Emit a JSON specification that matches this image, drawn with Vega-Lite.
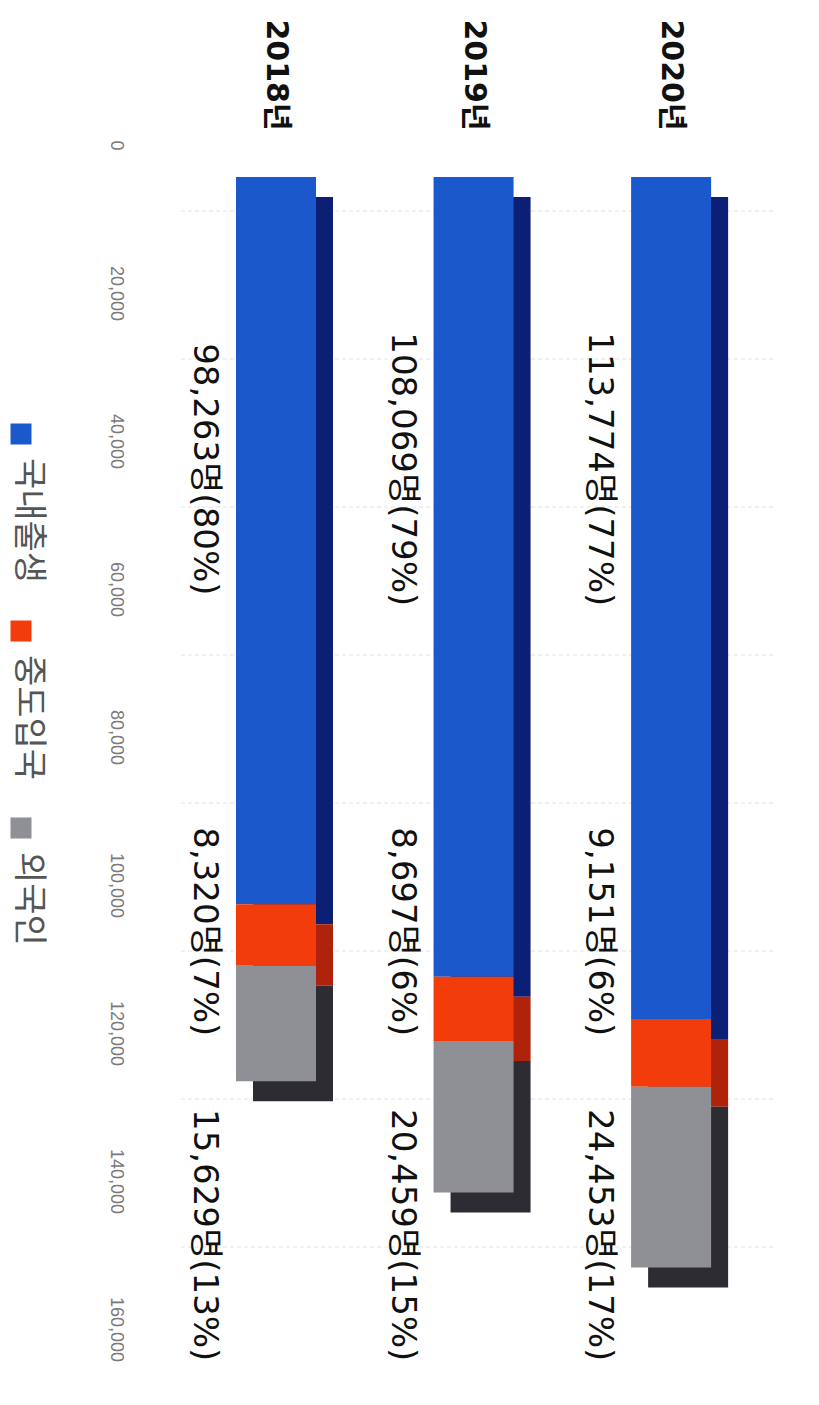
{
  "$schema": "https://vega.github.io/schema/vega-lite/v6.json",
  "width": 630,
  "height": 1184,
  "padding": {"left": 4, "top": 18, "right": 0, "bottom": 5},
  "background": "white",
  "config": {"view": {"stroke": null}},
  "data": {
    "values": [
      {"연도": "2018년", "유형": "국내출생", "인원": 98263, "비율": 80},
      {"연도": "2018년", "유형": "중도입국", "인원": 8320, "비율": 7},
      {"연도": "2018년", "유형": "외국인", "인원": 15629, "비율": 13},
      {"연도": "2019년", "유형": "국내출생", "인원": 108069, "비율": 79},
      {"연도": "2019년", "유형": "중도입국", "인원": 8697, "비율": 6},
      {"연도": "2019년", "유형": "외국인", "인원": 20459, "비율": 15},
      {"연도": "2020년", "유형": "국내출생", "인원": 113774, "비율": 77},
      {"연도": "2020년", "유형": "중도입국", "인원": 9151, "비율": 6},
      {"연도": "2020년", "유형": "외국인", "인원": 24453, "비율": 17}
    ]
  },
  "transform": [
    {"calculate": "indexof(['국내출생','중도입국','외국인'], datum['유형'])", "as": "순서"},
    {"calculate": "format(datum['인원'], ',') + '명(' + datum['비율'] + '%)'", "as": "라벨"},
    {"calculate": "datum['유형'] === '국내출생' ? 39500 : (datum['유형'] === '중도입국' ? 102000 : 143000)", "as": "라벨위치"}
  ],
  "encoding": {
    "x": {
      "field": "연도",
      "type": "nominal",
      "sort": ["2018년", "2019년", "2020년"],
      "scale": {"paddingInner": 0.595, "paddingOuter": 0.392, "align": 0.594},
      "axis": {
        "orient": "top",
        "title": null,
        "domain": false,
        "ticks": false,
        "grid": false,
        "labelAngle": 90,
        "labelAlign": "right",
        "labelBaseline": "middle",
        "labelFont": "DejaVu Sans, Noto Sans CJK KR",
        "labelFontWeight": "bold",
        "labelFontSize": 30,
        "labelColor": "#111111",
        "labelPadding": 47
      }
    }
  },
  "layer": [
    {
      "mark": {"type": "bar", "xOffset": 17, "yOffset": 20},
      "encoding": {
        "y": {
          "field": "인원",
          "type": "quantitative",
          "stack": "zero",
          "scale": {"domain": [0, 160000], "reverse": true, "nice": false, "zero": true},
          "axis": null
        },
        "color": {
          "field": "유형",
          "type": "nominal",
          "scale": {"domain": ["국내출생", "중도입국", "외국인"], "range": ["#0b1f74", "#b0230b", "#2c2c32"]},
          "legend": null
        },
        "order": {"field": "순서", "type": "quantitative"}
      }
    },
    {
      "mark": {"type": "bar"},
      "encoding": {
        "y": {
          "field": "인원",
          "type": "quantitative",
          "stack": "zero",
          "scale": {"domain": [0, 160000], "reverse": true, "nice": false, "zero": true},
          "axis": {
            "orient": "left",
            "title": null,
            "domain": false,
            "ticks": false,
            "grid": false,
            "values": [0, 20000, 40000, 60000, 80000, 100000, 120000, 140000, 160000],
            "format": ",d",
            "labelAngle": 90,
            "labelAlign": "center",
            "labelBaseline": "top",
            "labelFlush": false,
            "labelOverlap": false,
            "labelFont": "Liberation Sans",
            "labelFontSize": 18,
            "labelColor": "#7a7a7a",
            "labelPadding": 20,
            "labelOffset": -32
          }
        },
        "color": {
          "field": "유형",
          "type": "nominal",
          "scale": {"domain": ["국내출생", "중도입국", "외국인"], "range": ["#1b58cc", "#f23c0c", "#8f8f96"]},
          "legend": {
            "orient": "none",
            "legendX": -140,
            "legendY": 240,
            "direction": "vertical",
            "title": null,
            "padding": 0,
            "symbolType": "square",
            "symbolSize": 441,
            "symbolStrokeWidth": 0,
            "symbolOffset": 0,
            "labelFont": "Noto Sans CJK KR",
            "labelFontSize": 34,
            "labelColor": "#555555",
            "labelOffset": -10.5,
            "labelLimit": 0,
            "rowPadding": 30,
            "encode": {
              "labels": {
                "update": {
                  "angle": {"value": 90},
                  "dx": {"value": 24},
                  "align": {"value": "left"},
                  "baseline": {"value": "middle"}
                }
              }
            }
          }
        },
        "order": {"field": "순서", "type": "quantitative"}
      }
    },
    {
      "mark": {
        "type": "text",
        "angle": 90,
        "align": "center",
        "baseline": "middle",
        "xOffset": -72,
        "fontSize": 34,
        "font": "DejaVu Sans, Noto Sans CJK KR",
        "color": "#111111"
      },
      "encoding": {
        "y": {
          "field": "라벨위치",
          "type": "quantitative",
          "scale": {"domain": [0, 160000], "reverse": true, "nice": false, "zero": true},
          "axis": {
            "orient": "right",
            "title": null,
            "domain": false,
            "ticks": false,
            "labels": false,
            "grid": true,
            "gridColor": "#e2e2e2",
            "gridDash": [4, 3],
            "values": [0, 20000, 40000, 60000, 80000, 100000, 120000, 140000],
            "translate": 34
          }
        },
        "text": {"field": "라벨"}
      }
    }
  ],
  "resolve": {"scale": {"color": "independent"}, "axis": {"y": "independent"}}
}
